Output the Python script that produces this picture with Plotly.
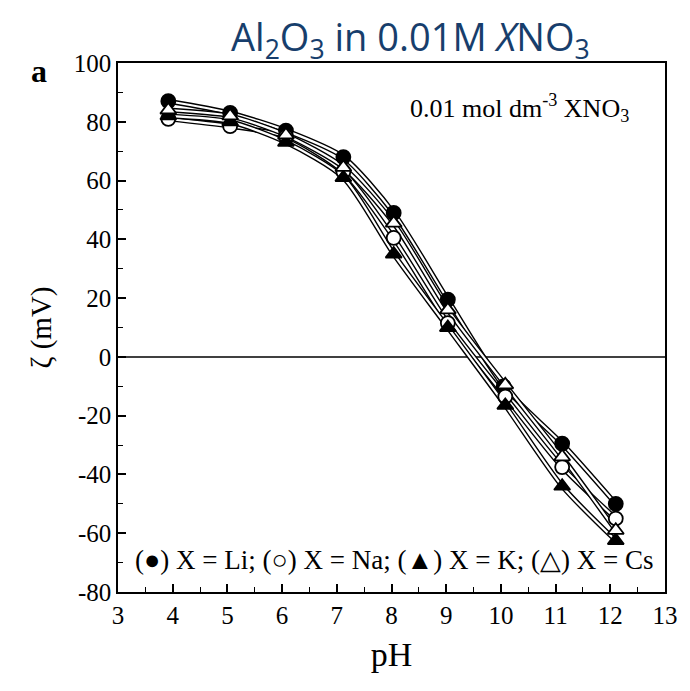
import plotly.graph_objects as go

ph_li = [3.92, 5.05, 6.07, 7.12, 8.04, 9.03, 10.05, 11.12, 12.1]
zeta_li = [87, 83, 77, 68, 49, 19.5, -10, -29.5, -50]
ph_na = [3.92, 5.05, 6.07, 7.12, 8.04, 9.03, 10.08, 11.12, 12.1]
zeta_na = [81, 78.5, 75, 63, 40.5, 11.5, -13.5, -37.5, -55]
ph_k = [3.92, 5.05, 6.07, 7.12, 8.04, 9.03, 10.08, 11.12, 12.1]
zeta_k = [82, 80, 73, 61, 35, 10, -16.5, -44, -62.5]
ph_cs = [3.92, 5.05, 6.07, 7.12, 8.04, 9.03, 10.08, 11.12, 12.1]
zeta_cs = [84, 82, 75.5, 64.5, 45.5, 16, -9.5, -34, -59]

series = [
    ("Li", ph_li, zeta_li, "circle", "black"),
    ("Na", ph_na, zeta_na, "circle", "white"),
    ("K", ph_k, zeta_k, "triangle-up", "black"),
    ("Cs", ph_cs, zeta_cs, "triangle-up", "white"),
]

x_ticks = list(range(3, 14))
y_ticks = list(range(-80, 101, 20))
y_ticktext = [str(v) for v in y_ticks]

serif = "Liberation Serif, Times New Roman, serif"
fig = go.Figure()

fig.add_trace(go.Scatter(x=[3, 13], y=[0, 0], mode="lines",
                         line=dict(color="black", width=1.5), showlegend=False, hoverinfo="skip"))

for name, xs, ys, sym, fill in series:
    fig.add_trace(go.Scatter(x=xs, y=ys, mode="lines",
                             line=dict(color="black", width=5, shape="spline", smoothing=0.7),
                             showlegend=False, hoverinfo="skip"))
    fig.add_trace(go.Scatter(x=xs, y=ys, mode="lines",
                             line=dict(color="white", width=2.2, shape="spline", smoothing=0.7),
                             showlegend=False, hoverinfo="skip"))

for name, xs, ys, sym, fill in series:
    fig.add_trace(go.Scatter(x=xs, y=ys, mode="markers", name=name,
                             marker=dict(symbol=sym, size=14, color=fill, line=dict(color="black", width=1.8)),
                             showlegend=False))

fig.update_layout(
    width=682, height=683,
    paper_bgcolor="white", plot_bgcolor="white",
    margin=dict(l=110, r=18, t=55, b=99),
    title=dict(text="Al<sub>2</sub>O<sub>3</sub> in 0.01M <i>X</i>NO<sub>3</sub>",
               font=dict(family="Open Sans", size=38, color="#173e6c"),
               x=0.59, xanchor="center", y=0.956, yanchor="middle"),
    font=dict(family=serif, color="black"),
)
fig.update_xaxes(range=[3, 13], tickvals=x_ticks, ticks="inside", ticklen=8, tickwidth=1.5,
                 tickcolor="black", showline=True, linecolor="black", linewidth=1.5, mirror=True,
                 showgrid=False, zeroline=False, tickfont=dict(family=serif, size=25),
                 minor=dict(dtick=0.5, ticks="inside", ticklen=5, tickcolor="black", tickwidth=1.2),
                 title=dict(text="pH", font=dict(family=serif, size=34), standoff=14))
fig.update_yaxes(range=[-80, 100], tickvals=y_ticks, ticktext=y_ticktext, ticks="inside", ticklen=8, tickwidth=1.5,
                 tickcolor="black", showline=True, linecolor="black", linewidth=1.5, mirror=True,
                 showgrid=False, zeroline=False, tickfont=dict(family=serif, size=25),
                 minor=dict(dtick=10, ticks="inside", ticklen=5, tickcolor="black", tickwidth=1.2),
                 title=dict(text="ζ (mV)", font=dict(family=serif, size=29), standoff=14))

fig.add_annotation(text="<b>a</b>", x=-0.145, y=0.985, xref="paper", yref="paper", xanchor="center", yanchor="middle",
                   showarrow=False, font=dict(family=serif, size=32))
fig.add_annotation(text="0.01 mol dm<sup>-3</sup> XNO<sub>3</sub>", x=0.937, y=0.915, xref="paper", yref="paper",
                   xanchor="right", yanchor="middle", showarrow=False, font=dict(family=serif, size=26))
fig.add_annotation(text="(●) X = Li; (○) X = Na; (▲) X = K; (△) X = Cs", x=0.505, y=-69, xref="paper", yref="y",
                   xanchor="center", yanchor="middle", showarrow=False, font=dict(family=serif, size=27))

fig.write_html("out.html")
